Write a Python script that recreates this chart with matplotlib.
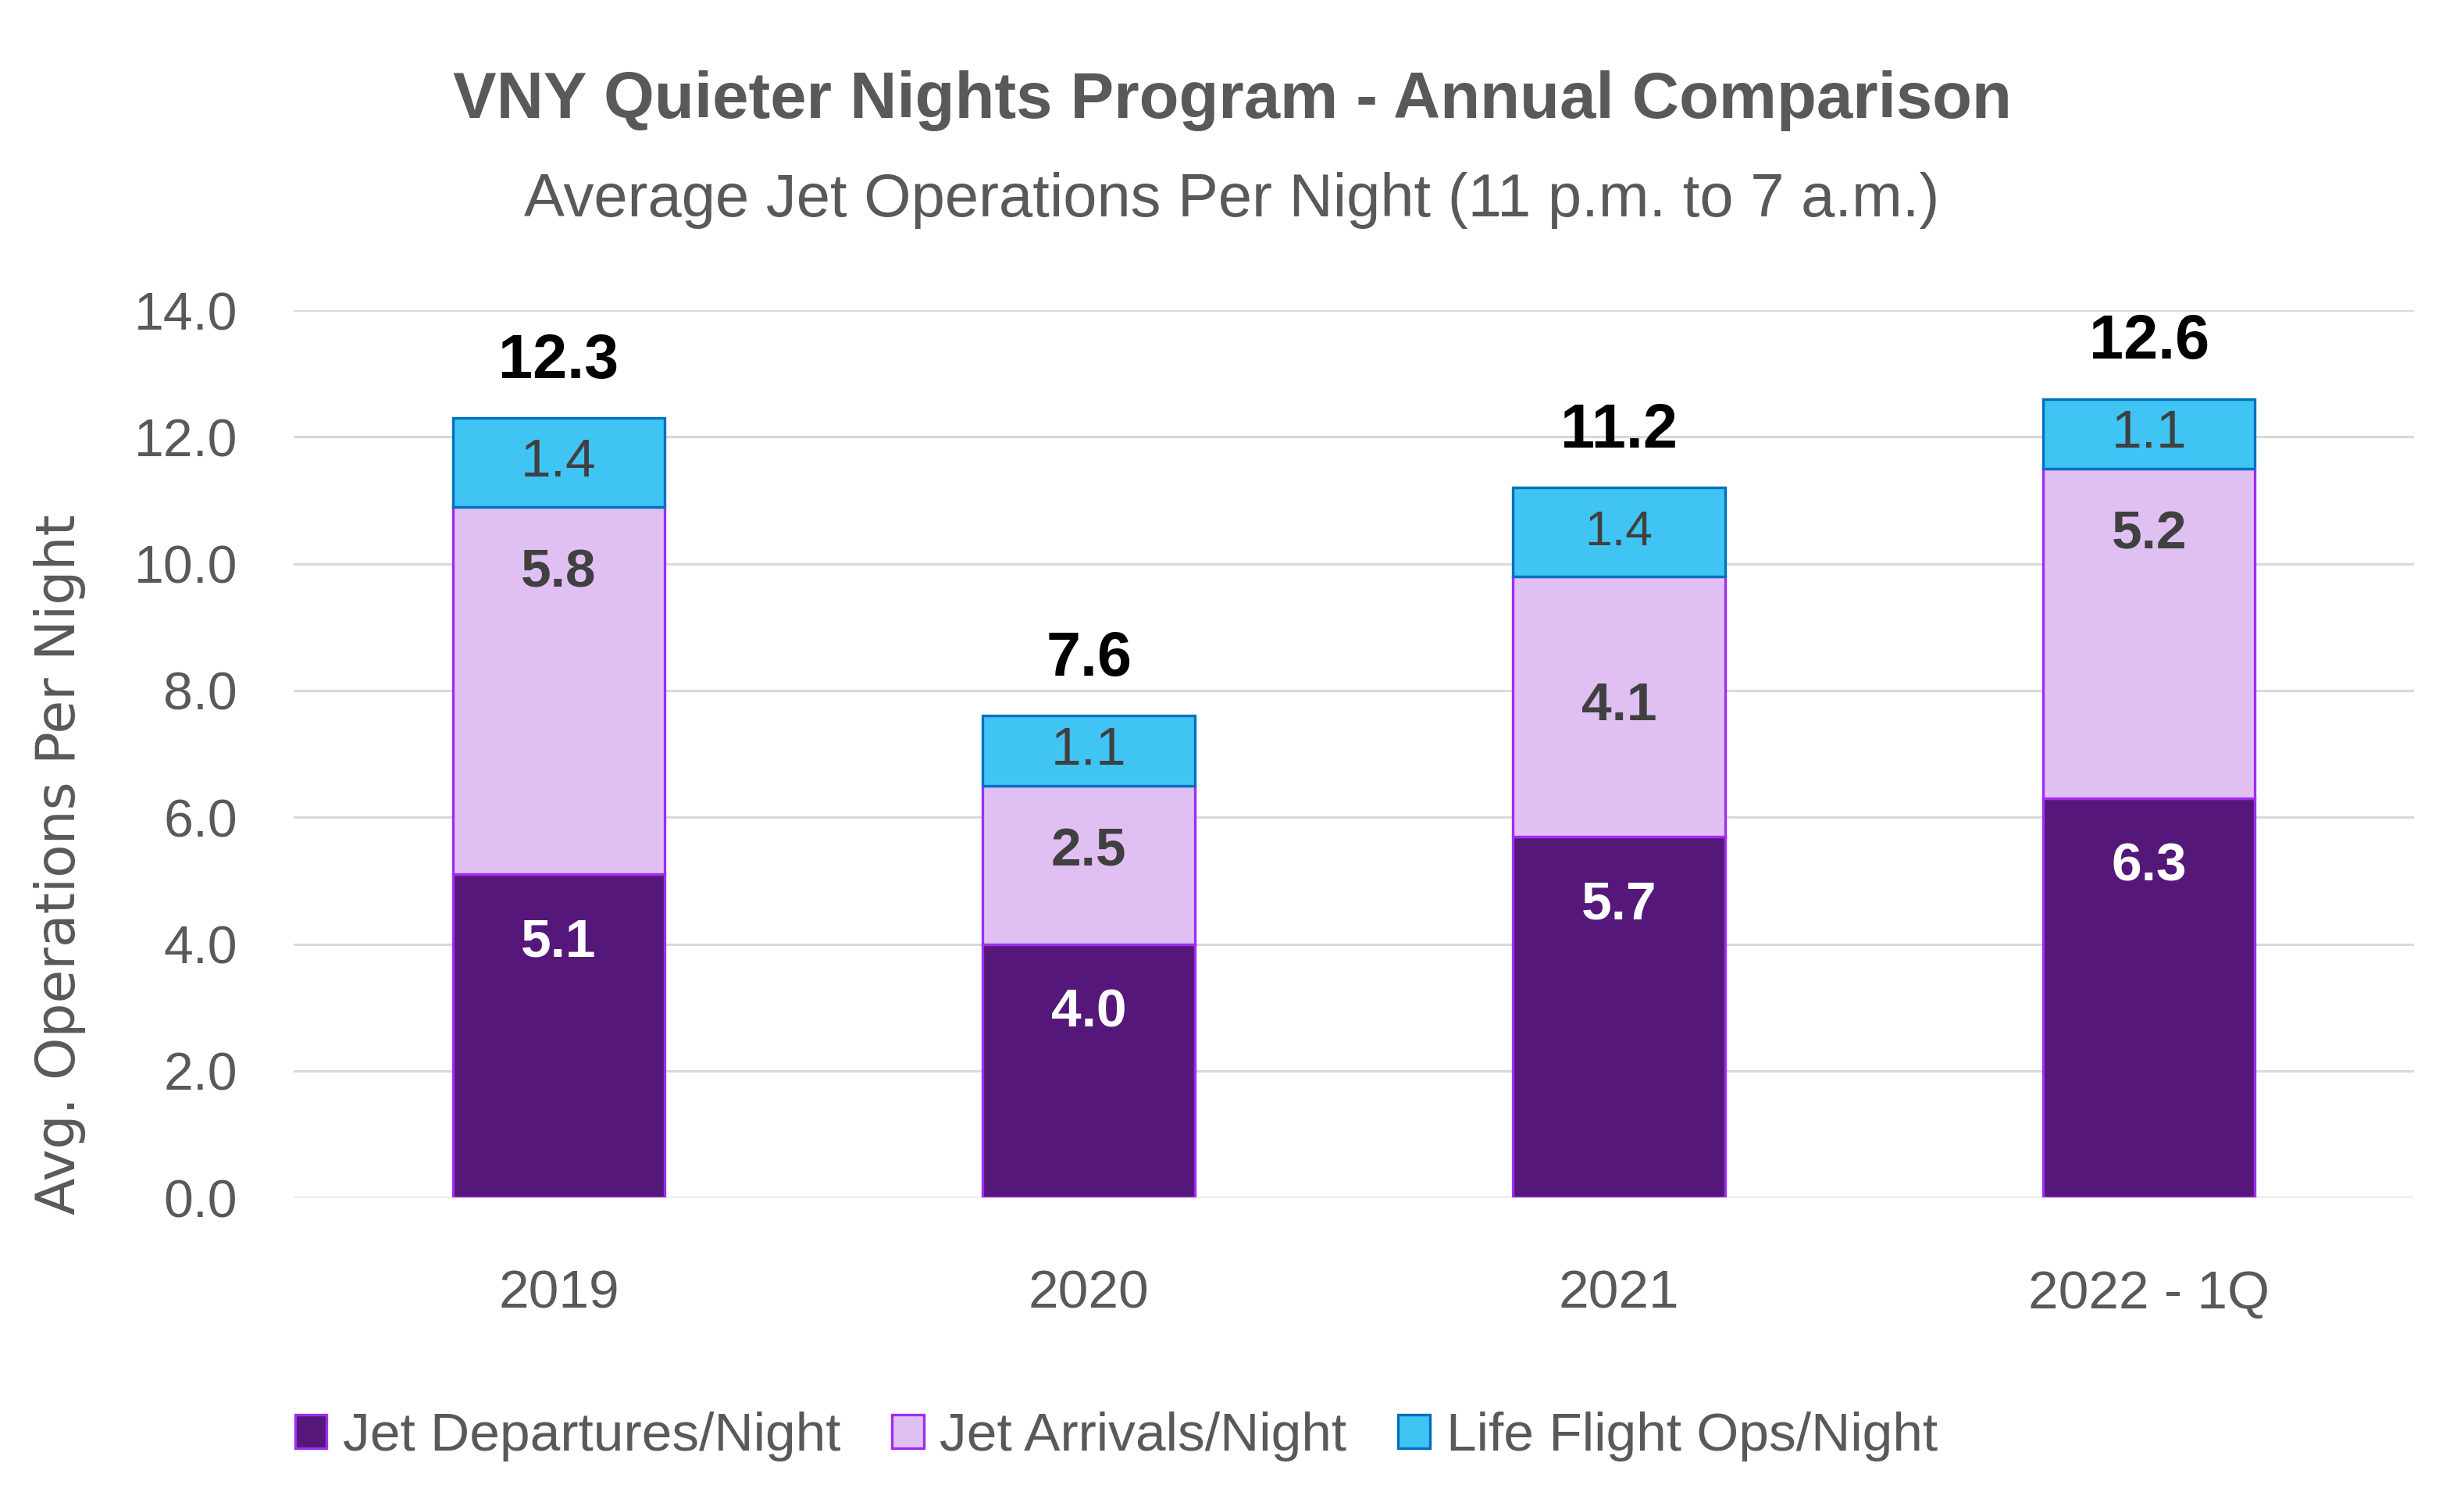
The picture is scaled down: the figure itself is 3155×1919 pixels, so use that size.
import matplotlib
matplotlib.use("Agg")
import matplotlib.pyplot as plt
from matplotlib.patches import Patch

categories = ["2019", "2020", "2021", "2022 - 1Q"]
departures = [5.1, 4.0, 5.7, 6.3]
arrivals = [5.8, 2.5, 4.1, 5.2]
life_flight = [1.4, 1.1, 1.4, 1.1]
totals = [12.3, 7.6, 11.2, 12.6]
series_names = ["Jet Departures/Night", "Jet Arrivals/Night", "Life Flight Ops/Night"]
yticks = [0, 2, 4, 6, 8, 10, 12, 14]

SANS = ["Liberation Sans", "DejaVu Sans"]
GRAY = "#595959"
DARK = "#404040"

dep_fill, dep_edge = "#55187A", "#A12CF0"
arr_fill, arr_edge = "#E0C0F2", "#A12CF0"
lf_fill, lf_edge = "#3FC4F3", "#0070C0"

fig = plt.figure(figsize=(31.55, 19.19), dpi=100)
ax = fig.add_axes([0.1192, 0.2011, 0.8605, 0.5920])

x = list(range(len(categories)))
w = 0.4
lw = 2.4
ax.bar(x, departures, w, color=dep_fill, edgecolor=dep_edge, linewidth=lw, zorder=3)
ax.bar(x, arrivals, w, bottom=departures, color=arr_fill, edgecolor=arr_edge, linewidth=lw, zorder=3)
bottom3 = [d + a for d, a in zip(departures, arrivals)]
ax.bar(x, life_flight, w, bottom=bottom3, color=lf_fill, edgecolor=lf_edge, linewidth=lw, zorder=4)

ax.set_xlim(-0.5, len(categories) - 0.5)
ax.set_ylim(0, 14)
ax.set_yticks(yticks)
ax.set_yticklabels([f"{v:.1f}" for v in yticks], fontfamily=SANS, fontsize=49, color=GRAY)
ax.set_xticks(x)
ax.set_xticklabels(categories, fontfamily=SANS, fontsize=50, color=GRAY)
ax.tick_params(axis="both", length=0)
ax.tick_params(axis="y", pad=52)
ax.tick_params(axis="x", pad=66)
ax.grid(axis="y", color="#D9D9D9", linewidth=2.2, zorder=0)
for s in ax.spines.values():
    s.set_visible(False)

ax.set_ylabel("Avg. Operations Per Night", fontfamily=["DejaVu Sans"], fontsize=50, color=GRAY)
ax.yaxis.set_label_coords(-0.098, 0.375)

# label placement as in the original: arrivals label centred for 2021, near top otherwise
arr_centered = [False, False, True, False]

for i in range(len(categories)):
    ax.annotate(f"{departures[i]:.1f}", (x[i], departures[i]), xytext=(0, -63), textcoords="offset points",
                ha="center", va="center", fontfamily=SANS, fontsize=50, fontweight="bold",
                color="white", zorder=6)
    if arr_centered[i]:
        ax.text(x[i], departures[i] + arrivals[i] / 2, f"{arrivals[i]:.1f}", ha="center", va="center",
                fontfamily=SANS, fontsize=50, fontweight="bold", color=DARK, zorder=6)
    else:
        ax.annotate(f"{arrivals[i]:.1f}", (x[i], bottom3[i]), xytext=(0, -61), textcoords="offset points",
                    ha="center", va="center", fontfamily=SANS, fontsize=50, fontweight="bold",
                    color=DARK, zorder=6)
    ax.text(x[i], bottom3[i] + life_flight[i] / 2, f"{life_flight[i]:.1f}",
            ha="center", va="center", fontfamily=SANS, fontsize=45 if i == 2 else 50,
            color=DARK, zorder=6)
    ax.annotate(f"{totals[i]:.1f}", (x[i], totals[i]), xytext=(0, 37), textcoords="offset points",
                ha="center", va="baseline", fontfamily=SANS, fontsize=57, fontweight="bold",
                color="black", zorder=6)

fig.text(0.5, 0.9215, "VNY Quieter Nights Program - Annual Comparison", ha="center", va="baseline",
         fontfamily=SANS, fontsize=60, fontweight="bold", color=GRAY)
fig.text(0.5, 0.8557, "Average Jet Operations Per Night (11 p.m. to 7 a.m.)", ha="center", va="baseline",
         fontfamily=SANS, fontsize=56, color=GRAY)

handles = [Patch(facecolor=dep_fill, edgecolor=dep_edge, linewidth=lw),
           Patch(facecolor=arr_fill, edgecolor=arr_edge, linewidth=lw),
           Patch(facecolor=lf_fill, edgecolor=lf_edge, linewidth=lw)]
fig.legend(handles, series_names, loc="center", bbox_to_anchor=(0.453, 0.0415), ncol=3,
           frameon=False, prop={"family": SANS, "size": 50}, labelcolor=GRAY,
           handlelength=0.58, handleheight=0.58, handletextpad=0.3, columnspacing=0.95)

fig.savefig("out.png", dpi=100, facecolor="white")
